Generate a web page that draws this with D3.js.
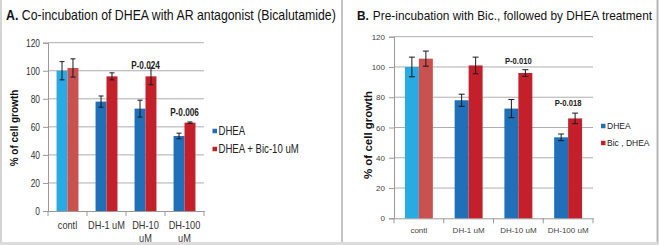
<!DOCTYPE html>
<html>
<head>
<meta charset="utf-8">
<script src="https://cdn.jsdelivr.net/npm/d3@7"></script>
<style>
  body { margin: 0; background: #fff; }
  svg { display: block; }
  text { font-family: "Liberation Sans", Arial, sans-serif; }
</style>
</head>
<body>
<div id="chart"></div>
<script>
// categories and tick labels
const categories = ["contl", "DH-1 uM", "DH-10 uM", "DH-100 uM"];
const labelsA = [["contl"], ["DH-1 uM"], ["DH-10", "uM"], ["DH-100", "uM"]];
const labelsB = [["contl"], ["DH-1 uM"], ["DH-10 uM"], ["DH-100 uM"]];
const yTicks = [0, 20, 40, 60, 80, 100, 120];

// panel A values (% of cell growth) and error bars
const dheaA = [100, 78, 73, 53.5];
const dheaErrA = [6.5, 4, 6, 2];
const bicA = [102, 96, 96, 63];
const bicErrA = [6.5, 2.5, 6, 0.5];
const pA = [null, null, "P-0.024", "P-0.006"];
const pLevelA = [null, null, 101.5, 68];

// panel B values
const dheaB = [100, 78, 72.5, 53.5];
const dheaErrB = [6.5, 4, 6, 2.2];
const bicB = [105.5, 101, 96, 66];
const bicErrB = [5, 5.5, 2.2, 3.5];
const pB = [null, null, "P-0.010", "P-0.018"];
const pLevelB = [null, null, 102, 74];

const seriesNamesA = ["DHEA", "DHEA + Bic-10 uM"];
const seriesNamesB = ["DHEA", "Bic , DHEA"];

const colors = {
  dhea: "#1f70b9", bic: "#c3202b",
  ctlDhea: "#2aaae2", ctlBic: "#c9514f"
};

const W = 659, H = 245;
const svg = d3.select("#chart").append("svg")
  .attr("width", W).attr("height", H);

// squeeze text horizontally (no narrow font installed)
function condense(sel, k) {
  if (k === 1) return;
  sel.each(function () {
    let w = this.getComputedTextLength();
    d3.select(this).attr("textLength", w * k).attr("lengthAdjust", "spacingAndGlyphs");
  });
}

// frame
svg.append("rect").attr("x", 0).attr("y", 242).attr("width", W).attr("height", 3).attr("fill", "#dcdcdc");
svg.append("line").attr("x1", 1).attr("x2", 1).attr("y1", 0).attr("y2", 242).attr("stroke", "#c4c4c4").attr("stroke-width", 1.5);
svg.append("line").attr("x1", 342).attr("x2", 342).attr("y1", 0).attr("y2", 242).attr("stroke", "#c4c4c4").attr("stroke-width", 2);
svg.append("line").attr("x1", 657.5).attr("x2", 657.5).attr("y1", 0).attr("y2", 242).attr("stroke", "#b8b8b8").attr("stroke-width", 2);

function drawPanel(p) {
  let g = svg.append("g");

  let x = d3.scaleBand().domain(categories).range([p.left, p.right]);
  let xs = d3.scaleBand().domain(["dhea", "bic"]).range([0, x.bandwidth()]).paddingOuter(0.78);
  let y = d3.scaleLinear().domain([0, 120]).range([p.bottom, p.top]);

  // gridlines
  g.append("g")
    .selectAll("line")
    .data(yTicks.filter(d => d > 0))
    .join("line")
    .attr("x1", p.left).attr("x2", p.right)
    .attr("y1", d => y(d)).attr("y2", d => y(d))
    .attr("stroke", "#adadad").attr("stroke-width", 1);

  // y axis
  let yAxis = g.append("g")
    .attr("transform", "translate(" + p.left + ",0)")
    .call(d3.axisLeft(y).tickValues(yTicks).tickSize(5).tickPadding(p.tickPad));
  yAxis.select(".domain").attr("stroke", "#999");
  yAxis.selectAll(".tick line").attr("stroke", "#999");
  yAxis.selectAll("text")
    .attr("font-family", null)
    .attr("font-size", p.tickSize)
    .attr("fill", p.tickColor)
    .call(condense, p.squeeze);

  // x axis
  let xAxis = g.append("g")
    .attr("transform", "translate(0," + p.bottom + ")")
    .call(d3.axisBottom(x).tickSize(0).tickFormat(""));
  xAxis.select(".domain").attr("stroke", "#999");
  g.append("g")
    .selectAll("line")
    .data(d3.range(categories.length + 1))
    .join("line")
    .attr("x1", i => p.left + i * x.step()).attr("x2", i => p.left + i * x.step())
    .attr("y1", p.bottom).attr("y2", p.bottom + 5)
    .attr("stroke", "#999");

  // category labels
  let lab = g.append("g").selectAll("text")
    .data(categories)
    .join("text")
    .attr("font-size", p.xSize)
    .attr("fill", p.tickColor)
    .attr("text-anchor", "middle")
    .attr("x", d => x(d) + x.bandwidth() / 2)
    .attr("y", p.xLabelY);
  lab.each(function (d, i) {
    d3.select(this).selectAll("tspan")
      .data(p.labels[i])
      .join("tspan")
      .attr("x", x(d) + x.bandwidth() / 2)
      .attr("dy", (t, j) => j === 0 ? 0 : p.xLineH)
      .text(t => t)
      .call(condense, p.squeeze);
  });

  // bars
  let rows = categories.map((c, i) => [
    {cat: c, s: "dhea", v: p.dhea[i], e: p.dheaErr[i], fill: i === 0 ? colors.ctlDhea : colors.dhea},
    {cat: c, s: "bic", v: p.bic[i], e: p.bicErr[i], fill: i === 0 ? colors.ctlBic : colors.bic}
  ]).flat();

  g.append("g").selectAll("rect")
    .data(rows)
    .join("rect")
    .attr("x", d => x(d.cat) + xs(d.s))
    .attr("y", d => y(d.v))
    .attr("width", xs.bandwidth())
    .attr("height", d => y(0) - y(d.v))
    .attr("fill", d => d.fill);

  // error bars
  let eb = g.append("g").attr("stroke", "#1a1a1a").attr("stroke-width", 1);
  rows.forEach(d => {
    let cx = x(d.cat) + xs(d.s) + xs.bandwidth() / 2;
    eb.append("line").attr("x1", cx).attr("x2", cx).attr("y1", y(d.v - d.e)).attr("y2", y(d.v + d.e));
    [d.v - d.e, d.v + d.e].forEach(v => {
      eb.append("line").attr("x1", cx - p.cap).attr("x2", cx + p.cap).attr("y1", y(v)).attr("y2", y(v));
    });
  });

  // p-values
  g.append("g").selectAll("text")
    .data(categories.map((c, i) => ({cat: c, t: p.pv[i], lv: p.pLevel[i]})).filter(d => d.t))
    .join("text")
    .attr("font-size", p.pSize)
    .attr("font-weight", "bold")
    .attr("fill", "#222")
    .attr("text-anchor", "middle")
    .attr("x", d => x(d.cat) + x.bandwidth() / 2)
    .attr("y", d => y(d.lv))
    .text(d => d.t)
    .call(condense, p.pSqueeze);

  // y title
  g.append("text")
    .attr("font-size", p.yTitleSize)
    .attr("font-weight", "bold")
    .attr("fill", "#111")
    .attr("text-anchor", "middle")
    .attr("transform", "translate(" + p.yTitleX + "," + p.yTitleY + ") rotate(-90)")
    .text("% of cell growth");

  // title: scaled horizontally with a transform so its box stays true
  let tg = g.append("g")
    .attr("transform", "translate(" + p.titleX + "," + p.titleY + ") scale(" + p.titleSqueeze + ",1)");
  let letter = tg.append("text")
    .attr("font-size", p.titleSize)
    .attr("font-weight", "bold")
    .attr("fill", "#111")
    .attr("x", 0).attr("y", 0)
    .text(p.title[0]);
  let lw = letter.node().getComputedTextLength();
  tg.append("text")
    .attr("font-size", p.titleSize)
    .attr("fill", "#111")
    .attr("x", lw + 4).attr("y", 0)
    .text(p.title[1]);

  // legend
  let lg = g.append("g");
  p.names.forEach((n, i) => {
    let ly = p.legendY + i * p.legendGap;
    lg.append("rect")
      .attr("x", p.legendX).attr("y", ly - p.sw / 2)
      .attr("width", p.sw).attr("height", p.sw)
      .attr("fill", i === 0 ? colors.dhea : colors.bic);
    lg.append("text")
      .attr("font-size", p.legendSize)
      .attr("fill", "#222")
      .attr("x", p.legendX + p.sw + 1.5).attr("y", ly)
      .attr("dy", "0.35em")
      .text(n)
      .call(condense, p.squeeze);
  });
}

drawPanel({
  left: 48, right: 204, top: 42.7, bottom: 211,
  dhea: dheaA, dheaErr: dheaErrA, bic: bicA, bicErr: bicErrA, pv: pA, pLevel: pLevelA,
  labels: labelsA, names: seriesNamesA,
  squeeze: 0.8, pSqueeze: 0.82, titleSqueeze: 0.88,
  tickSize: 10.5, tickColor: "#333", tickPad: 3,
  xSize: 11.5, xLabelY: 229, xLineH: 12.5,
  cap: 2.5, pSize: 10,
  yTitleSize: 10, yTitleX: 18, yTitleY: 128,
  title: ["A.", "Co-incubation of DHEA with AR antagonist (Bicalutamide)"],
  titleSize: 14, titleX: 6, titleY: 20,
  legendX: 212.5, legendY: 131, legendGap: 18, sw: 4.5, legendSize: 12
});

drawPanel({
  left: 394, right: 593, top: 36.7, bottom: 218.3,
  dhea: dheaB, dheaErr: dheaErrB, bic: bicB, bicErr: bicErrB, pv: pB, pLevel: pLevelB,
  labels: labelsB, names: seriesNamesB,
  squeeze: 1, pSqueeze: 0.9, titleSqueeze: 0.99,
  tickSize: 8, tickColor: "#444", tickPad: 4,
  xSize: 8, xLabelY: 233, xLineH: 10,
  cap: 3, pSize: 8.5,
  yTitleSize: 11.5, yTitleX: 372, yTitleY: 135,
  title: ["B.", "Pre-incubation with Bic., followed by DHEA treatment"],
  titleSize: 12, titleX: 357, titleY: 20,
  legendX: 601, legendY: 126, legendGap: 17, sw: 4.5, legendSize: 8.5
});
</script>
</body>
</html>
